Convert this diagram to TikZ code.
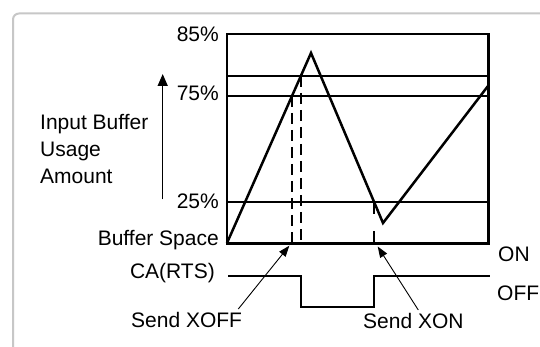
\documentclass[tikz,border=0pt]{standalone}
\usepackage{fontspec}
\setmainfont{Liberation Sans}
\usetikzlibrary{arrows.meta}
\tikzset{
    lbl/.style={inner sep=0pt,font=\fontsize{21}{27}\selectfont},
    thick line/.style={line width=2.5pt},
    thin line/.style={line width=1.3pt},
    mark line/.style={line width=1.5pt,dash pattern=on 11pt off 6pt},
    pointer/.style={line width=0.9pt,-{Triangle[length=11pt,width=8pt]}}
}
\begin{document}
\begin{tikzpicture}[x=1pt,y=-1pt]
    \useasboundingbox[fill=white](0,0) rectangle (540,347);
    \draw[black!22,line width=2pt,rounded corners=6pt](13,13.5) rectangle (600,400);
% chart frame and levels
    \draw[thick line](227,34) rectangle (488.5,243.5);
\foreach \y in {76,96,202}
{
    \draw[thin line](227,\y)--(488.5,\y);
}
    \node[lbl,anchor=base east] (p85) at (219,42) {85\%};
    \node[lbl,anchor=base east] (p75) at (219,100.5) {75\%};
    \node[lbl,anchor=base east] (p25) at (219,209) {25\%};
    \node[lbl,anchor=base east] (space) at (219,245) {Buffer Space};
    \node[lbl,anchor=base west,align=left] (usage) at (40,184) {Input Buffer\\Usage\\Amount};
    \coordinate (upBot) at (162.7,199.5);
    \coordinate (upTop) at (162.7,74);
    \draw[line width=1.5pt,-{Triangle[length=12pt,width=10pt]}](upBot)--(upTop);
% buffer usage
    \draw[thick line](227,243)--(311,53)--(383,223)--(488,86);
    \draw[mark line](292,96)--(292,243);
    \draw[mark line](300.8,76)--(300.8,243);
    \draw[mark line,dash pattern=on 12pt off 17pt](374,202)--(374,243);
% CA(RTS) signal
    \node[lbl,anchor=base east] (rts) at (215,278.5) {CA(RTS)};
    \draw[line width=1.4pt](228,276)--(301,276)--(301,307)--(374,307)--(374,276)--(490,276);
    \node[lbl,anchor=base west] (on) at (498,261.7) {ON};
    \node[lbl,anchor=base west] (off) at (497,300) {OFF};
% pointers
    \node[lbl,anchor=base west] (xoff) at (131,327.7) {Send XOFF};
    \node[lbl,anchor=base west] (xon) at (363,328) {Send XON};
    \coordinate (xoffTip) at (289.3,245.7);
    \coordinate (xonTip) at (377.7,246.5);
    \coordinate (xoffTail) at (238.3,309);
    \coordinate (xonTail) at (418.3,310);
    \draw[pointer](xoffTail)--(xoffTip);
    \draw[pointer](xonTail)--(xonTip);
\end{tikzpicture}
\end{document}
